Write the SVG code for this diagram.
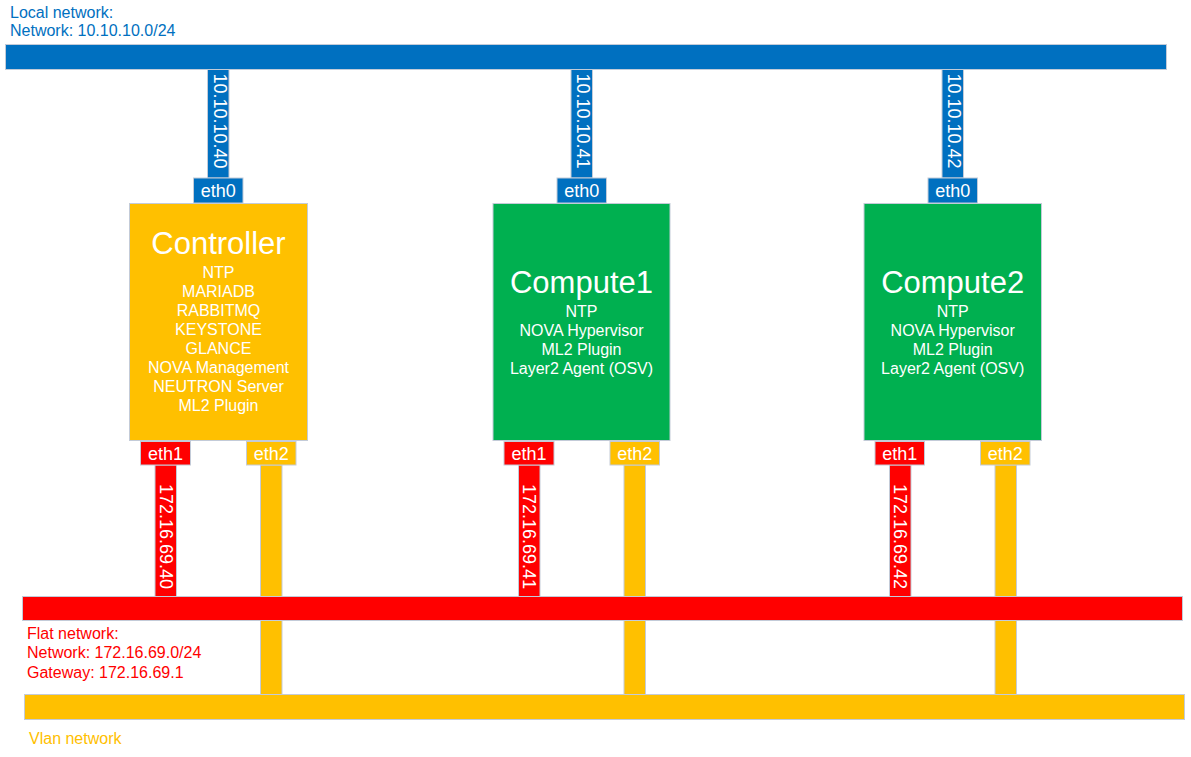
<svg xmlns="http://www.w3.org/2000/svg" width="1191" height="757" viewBox="0 0 1191 757">
<style>
text{font-family:"Liberation Sans",Arial,sans-serif}
.sh{stroke:#c3cbd8;stroke-width:1}
.blue{fill:#0070C0}
.red{fill:#FF0000}
.yel{fill:#FFC000}
.grn{fill:#00B050}
.w{fill:#ffffff}
.title{font-size:31px;fill:#ffffff;text-anchor:middle}
.svc{font-size:16px;fill:#ffffff;text-anchor:middle}
.eth{font-size:18px;fill:#ffffff;text-anchor:middle}
.ip{font-size:18px;fill:#ffffff;text-anchor:middle}
.lbl{font-size:16px}
</style>
<rect width="1191" height="757" fill="#ffffff"/>

<g id="local-network">
<rect class="blue sh" x="5.5" y="44.5" width="1161" height="25"/>
<text class="lbl" x="10" y="18" fill="#0070C0">Local network:</text>
<text class="lbl" x="10" y="36" fill="#0070C0">Network: 10.10.10.0/24</text>
</g>

<g id="flat-network">
<rect class="red sh" x="22.5" y="596.5" width="1160" height="24"/>
<text class="lbl" x="27" y="639" fill="#FF0000">Flat network:</text>
<text class="lbl" x="27" y="658" fill="#FF0000">Network: 172.16.69.0/24</text>
<text class="lbl" x="27" y="678" fill="#FF0000">Gateway: 172.16.69.1</text>
</g>

<g id="vlan-network">
<rect class="yel sh" x="24.5" y="694.5" width="1160" height="25"/>
<text class="lbl" x="29" y="744" fill="#FFC000">Vlan network</text>
</g>

<g id="connectors">
<!-- eth0 links -->
<rect class="blue sh" x="207.5" y="69.5" width="21.5" height="108.5"/>
<text class="ip" transform="translate(213.5,121) rotate(90)">10.10.10.40</text>
<rect class="blue sh" x="571" y="69.5" width="21.5" height="108.5"/>
<text class="ip" transform="translate(577,121) rotate(90)">10.10.10.41</text>
<rect class="blue sh" x="942" y="69.5" width="21.5" height="108.5"/>
<text class="ip" transform="translate(948,121) rotate(90)">10.10.10.42</text>
<!-- eth1 links -->
<rect class="red sh" x="155" y="465" width="21.5" height="131.5"/>
<text class="ip" transform="translate(159.5,536.5) rotate(90)">172.16.69.40</text>
<rect class="red sh" x="518.5" y="465" width="21.5" height="131.5"/>
<text class="ip" transform="translate(523,536.5) rotate(90)">172.16.69.41</text>
<rect class="red sh" x="889.5" y="465" width="21.5" height="131.5"/>
<text class="ip" transform="translate(894,536.5) rotate(90)">172.16.69.42</text>
<!-- eth2 links -->
<rect class="yel sh" x="260.5" y="465" width="21.5" height="131.5"/>
<rect class="yel sh" x="260.5" y="620.5" width="21.5" height="74"/>
<rect class="yel sh" x="624" y="465" width="21.5" height="131.5"/>
<rect class="yel sh" x="624" y="620.5" width="21.5" height="74"/>
<rect class="yel sh" x="995" y="465" width="21.5" height="131.5"/>
<rect class="yel sh" x="995" y="620.5" width="21.5" height="74"/>
</g>

<g id="controller">
<rect class="blue sh" x="193.5" y="178" width="49.5" height="25"/>
<text class="eth" x="218.3" y="197">eth0</text>
<rect class="yel sh" x="129.5" y="203.5" width="178" height="237"/>
<text class="title" x="218.5" y="254">Controller</text>
<text class="svc" x="218.5" y="278">NTP</text>
<text class="svc" x="218.5" y="297">MARIADB</text>
<text class="svc" x="218.5" y="316">RABBITMQ</text>
<text class="svc" x="218.5" y="335">KEYSTONE</text>
<text class="svc" x="218.5" y="354">GLANCE</text>
<text class="svc" x="218.5" y="373">NOVA Management</text>
<text class="svc" x="218.5" y="392">NEUTRON Server</text>
<text class="svc" x="218.5" y="411">ML2 Plugin</text>
<rect class="red sh" x="140.5" y="441.5" width="50" height="23.5"/>
<text class="eth" x="165.5" y="460">eth1</text>
<rect class="yel sh" x="246.5" y="441.5" width="49.5" height="23.5"/>
<text class="eth" x="271.3" y="460">eth2</text>
</g>

<g id="compute1">
<rect class="blue sh" x="557" y="178" width="49.5" height="25"/>
<text class="eth" x="581.8" y="197">eth0</text>
<rect class="grn sh" x="493" y="203.5" width="177" height="237"/>
<text class="title" x="581.5" y="293">Compute1</text>
<text class="svc" x="581.5" y="317">NTP</text>
<text class="svc" x="581.5" y="336">NOVA Hypervisor</text>
<text class="svc" x="581.5" y="355">ML2 Plugin</text>
<text class="svc" x="581.5" y="374">Layer2 Agent (OSV)</text>
<rect class="red sh" x="504" y="441.5" width="50" height="23.5"/>
<text class="eth" x="529" y="460">eth1</text>
<rect class="yel sh" x="610" y="441.5" width="49.5" height="23.5"/>
<text class="eth" x="634.8" y="460">eth2</text>
</g>

<g id="compute2">
<rect class="blue sh" x="928" y="178" width="49.5" height="25"/>
<text class="eth" x="952.8" y="197">eth0</text>
<rect class="grn sh" x="864" y="203.5" width="177.5" height="237"/>
<text class="title" x="952.7" y="293">Compute2</text>
<text class="svc" x="952.7" y="317">NTP</text>
<text class="svc" x="952.7" y="336">NOVA Hypervisor</text>
<text class="svc" x="952.7" y="355">ML2 Plugin</text>
<text class="svc" x="952.7" y="374">Layer2 Agent (OSV)</text>
<rect class="red sh" x="875" y="441.5" width="49.5" height="23.5"/>
<text class="eth" x="899.8" y="460">eth1</text>
<rect class="yel sh" x="980.5" y="441.5" width="49.5" height="23.5"/>
<text class="eth" x="1005.3" y="460">eth2</text>
</g>
</svg>
